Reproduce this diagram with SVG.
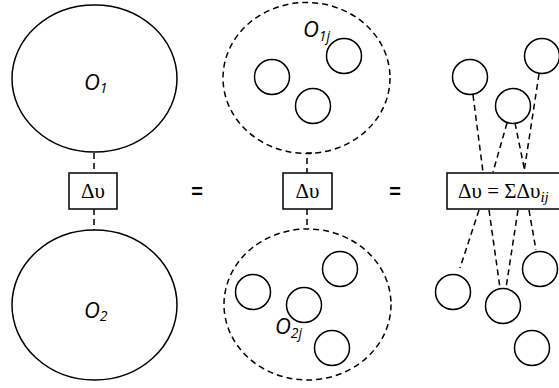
<svg xmlns="http://www.w3.org/2000/svg" width="559" height="388" viewBox="0 0 559 388">
<style>
.s{fill:none;stroke:#000;stroke-width:1.5}
.d{fill:none;stroke:#000;stroke-width:1.5;stroke-dasharray:6,4}
.bx{fill:#fff;stroke:#000;stroke-width:1.5}
.o{font-family:"Open Sans","Liberation Sans",sans-serif;font-style:italic;font-size:22px;fill:#000}
.sub{font-size:14px}
.m{font-family:"Liberation Serif","DejaVu Serif",serif;font-size:21px;fill:#000}
.eq{font-family:"Liberation Sans",sans-serif;font-weight:bold;font-size:20px;fill:#000}
</style>
<rect width="559" height="388" fill="#fff"/>
<g id="connectors">
<line class="d" x1="94" y1="153" x2="94" y2="173"/>
<line class="d" x1="94" y1="209" x2="94" y2="230"/>
<polyline class="d" points="312,153 307,153 307,173"/>
<line class="d" x1="307" y1="209" x2="307" y2="229"/>
<line class="d" x1="473" y1="95" x2="483" y2="172"/>
<line class="d" x1="507" y1="123" x2="493" y2="172"/>
<line class="d" x1="515" y1="123" x2="525" y2="172"/>
<line class="d" x1="539" y1="74" x2="524" y2="172"/>
<line class="d" x1="479" y1="210" x2="460" y2="268"/>
<line class="d" x1="489" y1="210" x2="500" y2="288"/>
<line class="d" x1="518" y1="210" x2="506" y2="288"/>
<line class="d" x1="529" y1="210" x2="536" y2="250"/>
</g>
<g id="O1">
<ellipse class="s" cx="94.5" cy="78.5" rx="82.5" ry="73.5"/>
<text class="o" x="84" y="90">O<tspan class="sub" dy="3">1</tspan></text>
</g>
<g id="O2">
<ellipse class="s" cx="94.5" cy="305" rx="82.5" ry="75"/>
<text class="o" x="84" y="318">O<tspan class="sub" dy="3">2</tspan></text>
</g>
<g id="box1">
<rect class="bx" x="69" y="173" width="48" height="36"/>
<text class="m" x="93" y="198" text-anchor="middle">Δυ</text>
</g>
<text class="eq" x="197" y="198" text-anchor="middle">=</text>
<g id="O1j">
<ellipse class="d" cx="306.5" cy="78" rx="83.5" ry="75.5"/>
<circle class="s" cx="272" cy="77" r="17.5"/>
<circle class="s" cx="344" cy="56" r="17.5"/>
<circle class="s" cx="313" cy="106" r="17.5"/>
<text class="o" x="303" y="37">O<tspan class="sub" dy="4">1<tspan font-style="italic">j</tspan></tspan></text>
</g>
<g id="box2">
<rect class="bx" x="283" y="173" width="49" height="36"/>
<text class="m" x="307.5" y="198" text-anchor="middle">Δυ</text>
</g>
<g id="O2j">
<ellipse class="d" cx="307.5" cy="304.5" rx="83.5" ry="75.5"/>
<circle class="s" cx="253" cy="292" r="17.5"/>
<circle class="s" cx="304" cy="305" r="17.5"/>
<circle class="s" cx="340" cy="269" r="17.5"/>
<circle class="s" cx="332" cy="348" r="17.5"/>
<text class="o" x="275" y="334">O<tspan class="sub" dy="4">2j</tspan></text>
</g>
<text class="eq" x="395" y="198" text-anchor="middle">=</text>
<g id="sum">
<circle class="s" cx="470" cy="77" r="17.5"/>
<circle class="s" cx="542" cy="56" r="17.5"/>
<circle class="s" cx="513" cy="106" r="17.5"/>
<circle class="s" cx="453" cy="292" r="17.5"/>
<circle class="s" cx="503" cy="306" r="17.5"/>
<circle class="s" cx="540" cy="269" r="17.5"/>
<circle class="s" cx="532" cy="348" r="17.5"/>
<rect class="bx" x="447" y="173" width="125" height="36"/>
<text class="m" x="458" y="198" font-size="22">Δυ = ΣΔυ<tspan font-style="italic" font-size="15" dy="4">ij</tspan></text>
</g>
</svg>
